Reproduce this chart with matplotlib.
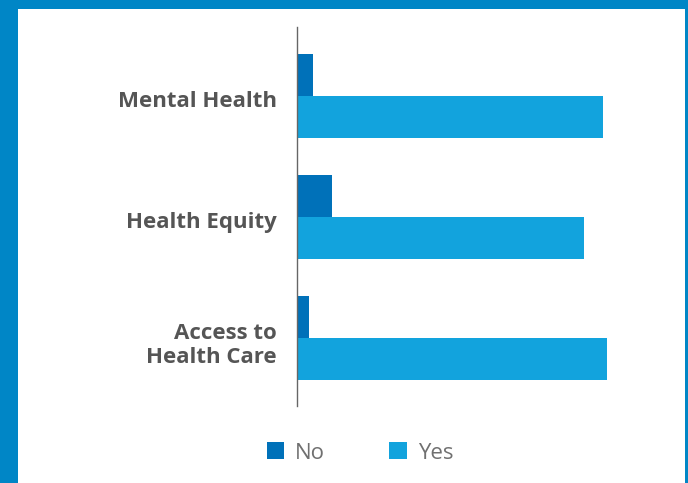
import matplotlib
matplotlib.use("Agg")
import matplotlib.pyplot as plt
from matplotlib.patches import Rectangle, Patch
import numpy as np

categories = ["Access to\nHealth Care", "Health Equity", "Mental Health"]
no_values = [4, 11, 5]
yes_values = [96, 89, 95]
series_names = ["No", "Yes"]

color_no = "#0071b9"
color_yes = "#12a3dd"
frame_color = "#0086c6"
label_color = "#555555"

W, H = 688, 483
fig = plt.figure(figsize=(W / 100, H / 100), dpi=100)
fig.patch.set_facecolor(frame_color)

# white panel inside the blue frame
fig.patches.append(Rectangle((18 / W, 0), (685 - 18) / W, (H - 9) / H,
                             transform=fig.transFigure, facecolor="white",
                             edgecolor="none", zorder=-5))

ax = fig.add_axes([296.5 / W, (H - 406) / H, 323 / W, 379 / H])
ax.set_zorder(2)
ax.set_facecolor("none")

y = np.arange(len(categories))
h = 0.35
ax.barh(y + h / 2, no_values, height=h, color=color_no, label=series_names[0], zorder=2)
ax.barh(y - h / 2, yes_values, height=h, color=color_yes, label=series_names[1], zorder=2)

ax.set_xlim(0, 100)
ax.set_ylim(-0.562, 2.57)
ax.set_yticks(y - 0.025)
ax.set_yticklabels(categories, fontsize=16, fontweight="bold", color=label_color,
                   family=["Open Sans", "DejaVu Sans"], linespacing=1.2)
ax.tick_params(axis="y", length=0, pad=14)
ax.set_xticks([])
for s in ["top", "right", "bottom"]:
    ax.spines[s].set_visible(False)
ax.spines["left"].set_color("#666666")
ax.spines["left"].set_linewidth(1.0)
ax.spines["left"].set_zorder(3)

handles = [Patch(facecolor=color_no, edgecolor="none"),
           Patch(facecolor=color_yes, edgecolor="none")]
leg = fig.legend(handles, series_names, loc="center", ncol=2,
                 bbox_to_anchor=(360 / W, 1 - 453 / H), frameon=False,
                 prop={"family": ["Open Sans", "DejaVu Sans"], "size": 16, "weight": "normal"},
                 handlelength=0.77, handleheight=0.77, handletextpad=0.5,
                 columnspacing=2.9, borderaxespad=0, borderpad=0)
leg.set_zorder(3)
for t in leg.get_texts():
    t.set_color("#707070")

fig.savefig("out.png", dpi=100, facecolor=fig.get_facecolor())
